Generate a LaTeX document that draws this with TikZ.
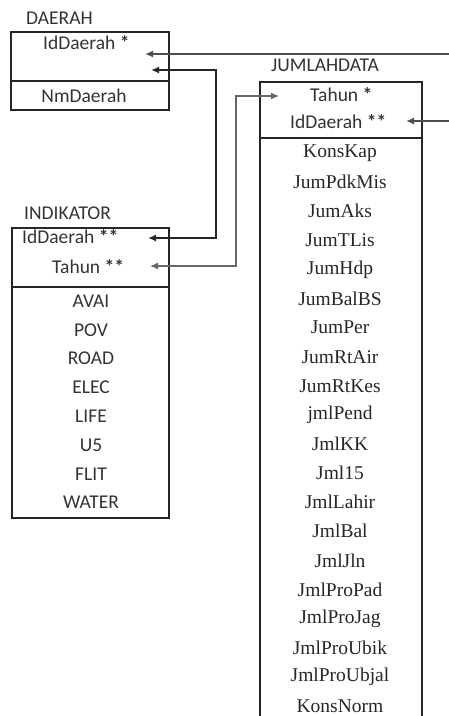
\documentclass[tikz,border=0pt]{standalone}
\usepackage{fontspec}
\setmainfont{Carlito}
\newfontfamily\fieldserif{Liberation Serif}
\usetikzlibrary{arrows.meta}

\begin{document}
\begin{tikzpicture}[
    x=1pt, y=-1pt,
    >={Latex[length=8pt,width=7pt]},
    tbl/.style={draw=black!85, line width=1.2pt},
    ttl/.style={anchor=west, inner sep=0pt, text=black!80, font=\fontsize{19.5}{22}\selectfont},
    key/.style={anchor=west, inner sep=0pt, text=black!80, font=\fontsize{19.5}{22}\selectfont},
    fld/.style={inner sep=0pt, text=black!80, font=\fontsize{19.5}{22}\selectfont},
    sfld/.style={inner sep=0pt, text=black!85, font=\fieldserif\fontsize{19.5}{22}\selectfont},
    link/.style={<->, draw=black!70, line width=1.8pt},
    biglink/.style={<->, draw=black!85, line width=2.8pt},
    thinlink/.style={<->, draw=black!60, line width=1.3pt}
]
    \useasboundingbox (0,0) rectangle (448,716);

    % DAERAH
    \node[ttl] (tDaerah) at (26,18) {DAERAH};
    \draw[tbl] (11,32) rectangle (169,110);
    \draw[tbl] (11,81) -- (169,81);
    \node[key] (dId) at (43,43) {IdDaerah \textbf{*}};
    \node[fld] (dNm) at (84,96) {NmDaerah};

    % INDIKATOR
    \node[ttl] (tIndikator) at (24,213) {INDIKATOR};
    \draw[tbl] (12,228) rectangle (169,518);
    \draw[tbl] (12,287) -- (169,287);
    \node[key] (iId) at (22,237) {IdDaerah \textbf{**}};
    \node[key] (iTahun) at (52,267) {Tahun \textbf{**}};
    \foreach \nm [count=\i] in {AVAI,POV,ROAD,ELEC,LIFE,U5,FLIT,WATER}
        \node[fld] (i\i) at (91,{301+28.8*(\i-1)}) {\nm};

    % JUMLAHDATA
    \node[ttl] (tJumlah) at (271,65) {JUMLAHDATA};
    \draw[tbl] (260,730) -- (260,82) -- (422,82) -- (422,730);
    \draw[tbl] (260,138) -- (422,138);
    \node[key] (jTahun) at (310,95) {Tahun \textbf{*}};
    \node[key] (jId) at (290,122) {IdDaerah \textbf{**}};
    \foreach \nm [count=\i] in {KonsKap,JumPdkMis,JumAks,JumTLis,JumHdp,JumBalBS,JumPer,JumRtAir,JumRtKes,jmlPend,JmlKK,Jml15,JmlLahir,JmlBal,JmlJln,JmlProPad,JmlProJag,JmlProUbik,JmlProUbjal,KonsNorm}
        \node[sfld] (j\i) at (340,{153+29.1*(\i-1)}) {\nm};

    % arrow ends and bends
    \coordinate (dTipA) at (145,54);
    \coordinate (dTipB) at (151,70);
    \coordinate (iTipA) at (148,238);
    \coordinate (iTipB) at (150,266);
    \coordinate (jTipA) at (279,96);
    \coordinate (jTipB) at (406,121);
    \coordinate (offRight) at (462,0);
    \coordinate (spineA) at (216,0);
    \coordinate (spineB) at (236,0);

    \draw[link] (dTipA) -- (dTipA -| offRight) |- (jTipB);
    \draw[biglink] (dTipB) -- (dTipB -| spineA) |- (iTipA);
    \draw[thinlink] (iTipB) -- (iTipB -| spineB) |- (jTipA);
\end{tikzpicture}
\end{document}
